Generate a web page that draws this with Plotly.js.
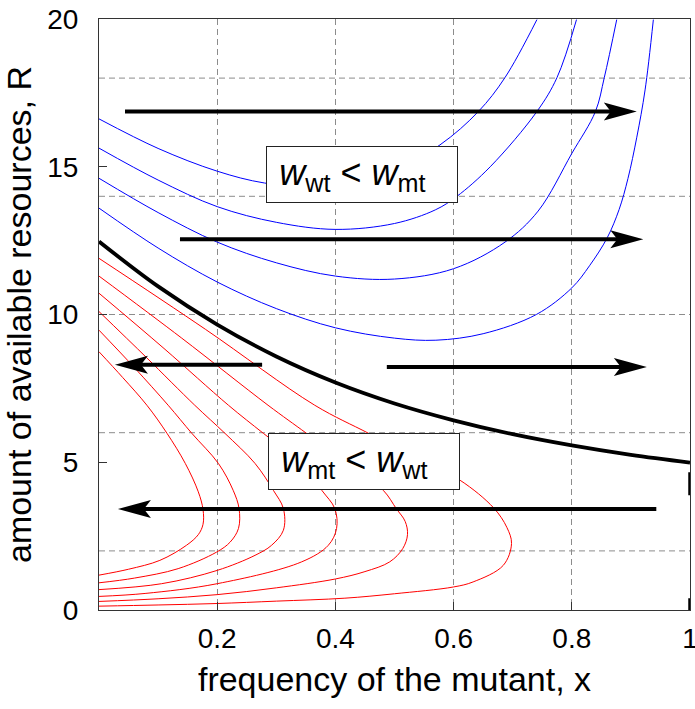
<!DOCTYPE html>
<html><head><meta charset="utf-8">
<script src="https://cdn.plot.ly/plotly-3.0.1.min.js"></script>
<style>html,body{margin:0;padding:0;background:#fff}</style>
</head><body>
<div id="chart" style="width:695px;height:709px"></div>
<script>
// ---------- data ----------
// blue trajectories (w_wt < w_mt region)
const blue1X = [0, 0.1, 0.2, 0.28, 0.38, 0.48, 0.577, 0.642, 0.687, 0.741];
const blue1R = [16.62, 15.62, 14.85, 14.45, 14.3, 14.65, 15.74, 16.87, 18.02, 19.98];
const blue2X = [0, 0.1, 0.2, 0.3, 0.4, 0.5, 0.569, 0.605, 0.662, 0.741, 0.775, 0.808];
const blue2R = [15.63, 14.55, 13.65, 13.12, 12.88, 13.08, 13.54, 13.99, 15.0, 16.87, 18.02, 19.98];
const blue3X = [0, 0.1, 0.2, 0.3, 0.4, 0.5, 0.6, 0.687, 0.743, 0.8, 0.84, 0.855, 0.876];
const blue3R = [14.61, 13.45, 12.45, 11.75, 11.3, 11.2, 11.55, 12.45, 13.5, 15.45, 16.87, 18.02, 19.98];
const blue4X = [0, 0.1, 0.2, 0.3, 0.4, 0.5, 0.57, 0.65, 0.74, 0.8, 0.83, 0.86, 0.88, 0.895, 0.91, 0.924, 0.938];
const blue4R = [13.6, 12.25, 11.1, 10.2, 9.55, 9.2, 9.13, 9.35, 10.0, 10.9, 11.65, 12.6, 13.55, 14.6, 16.0, 17.6, 19.98];

// red trajectories (w_mt < w_wt region)
const redAX = [0, 0.04, 0.081, 0.115, 0.146, 0.168, 0.176, 0.176, 0.168, 0.148, 0.103, 0.05, 0];
const redAR = [8.74, 7.87, 6.93, 5.98, 4.96, 4.0, 3.4, 2.9, 2.55, 2.19, 1.68, 1.38, 1.18];
const redBX = [0, 0.06, 0.117, 0.157, 0.202, 0.227, 0.237, 0.236, 0.222, 0.199, 0.134, 0.06, 0];
const redBR = [9.47, 8.2, 6.93, 5.98, 4.96, 4.05, 3.43, 2.76, 2.3, 1.96, 1.4, 1.08, 0.92];
const redCX = [0, 0.08, 0.162, 0.213, 0.264, 0.295, 0.312, 0.312, 0.292, 0.264, 0.2, 0.106, 0];
const redCR = [10.1, 8.55, 6.93, 5.98, 4.96, 4.05, 3.43, 2.7, 2.19, 1.85, 1.34, 0.89, 0.69];
const redDX = [0, 0.11, 0.219, 0.278, 0.343, 0.377, 0.399, 0.402, 0.388, 0.343, 0.2, 0.078, 0];
const redDR = [10.72, 8.85, 6.93, 5.98, 4.96, 4.05, 3.43, 2.76, 2.19, 1.63, 0.89, 0.56, 0.46];
const redEX = [0, 0.14, 0.286, 0.351, 0.42, 0.481, 0.503, 0.518, 0.522, 0.514, 0.492, 0.45, 0.4, 0.3, 0.2, 0.1, 0];
const redER = [11.3, 9.2, 6.93, 5.98, 4.96, 4.05, 3.43, 3.0, 2.55, 2.08, 1.63, 1.3, 1.05, 0.75, 0.52, 0.38, 0.29];
const redFX = [0, 0.18, 0.365, 0.456, 0.535, 0.611, 0.668, 0.69, 0.698, 0.684, 0.633, 0.6, 0.5, 0.416, 0.3, 0.2, 0.1, 0];
const redFR = [11.9, 9.5, 6.93, 5.98, 5.15, 4.39, 3.45, 2.8, 2.25, 1.51, 0.95, 0.78, 0.55, 0.4, 0.3, 0.22, 0.17, 0.13];

// separatrix (w_wt = w_mt)
const sepX = [0, 0.1, 0.2, 0.3, 0.4, 0.5, 0.6, 0.7, 0.8, 0.9, 1];
const sepR = [12.47, 10.95, 9.66, 8.58, 7.7, 6.99, 6.42, 5.95, 5.57, 5.25, 4.99];

// vertical dashed segment at x = 1
const edgeX = [1, 1];
const edgeR = [5, 0];

// direction arrows
const arrowTailX = [0.044, 0.137, 0.276, 0.487, 0.943];
const arrowTipX  = [0.91, 0.921, 0.027, 0.927, 0.032];
const arrowR     = [16.87, 12.55, 8.3, 8.22, 3.42];

// labels
const labelX = [0.2826, 0.286];
const labelR = [15.71, 5.975];
const labelText = ['<i>w</i><sub>wt</sub> &lt; <i>w</i><sub>mt</sub>',
                   '<i>w</i><sub>mt</sub> &lt; <i>w</i><sub>wt</sub>'];

// axes
const xTickVals = [0.2, 0.4, 0.6, 0.8, 1];
const xTickText = ['0.2', '0.4', '0.6', '0.8', '1'];
const yTickVals = [0, 5, 10, 15, 20];
const yGridVals = [2, 6, 10, 14, 18];

// ---------- drawing ----------
const FONT = 'Liberation Sans, Arial, Helvetica, sans-serif';
const W = 695, H = 709;
const M = {l: 99, r: 5, t: 19, b: 99};
const PLOT_W = W - M.l - M.r;

function curve(x, y, color, width) {
  return {x: x, y: y, type: 'scatter', mode: 'lines',
          line: {color: color, width: width, shape: 'spline', smoothing: 1},
          hoverinfo: 'skip', showlegend: false};
}

const traces = [
  curve(blue1X, blue1R, '#0000ff', 1),
  curve(blue2X, blue2R, '#0000ff', 1),
  curve(blue3X, blue3R, '#0000ff', 1),
  curve(blue4X, blue4R, '#0000ff', 1),
  curve(redAX, redAR, '#ff0000', 1),
  curve(redBX, redBR, '#ff0000', 1),
  curve(redCX, redCR, '#ff0000', 1),
  curve(redDX, redDR, '#ff0000', 1),
  curve(redEX, redER, '#ff0000', 1),
  curve(redFX, redFR, '#ff0000', 1),
  curve(sepX, sepR, '#000000', 3.8),
  {x: edgeX, y: edgeR, type: 'scatter', mode: 'lines', cliponaxis: false,
   line: {color: '#000', width: 3.5, dash: '0px,10px,23px,103px,12px,10px'},
   hoverinfo: 'skip', showlegend: false}
];

const shapes = [];
yGridVals.forEach(v => shapes.push({
  type: 'line', xref: 'paper', yref: 'y', x0: 0, x1: 1, y0: v, y1: v, layer: 'below',
  line: {color: '#8c8c8c', width: 1, dash: '6px,4px'}
}));

const HEAD_R = 'M0,0L-33,9L-26,0L-33,-9Z';
const HEAD_L = 'M0,0L33,9L26,0L33,-9Z';
arrowTipX.forEach((tip, i) => {
  const tail = arrowTailX[i];
  const dir = tip > tail ? 1 : -1;
  shapes.push({type: 'line', xref: 'x', yref: 'y',
    x0: tail, y0: arrowR[i], x1: tip - dir * 22 / PLOT_W, y1: arrowR[i],
    line: {color: '#000', width: 4}});
  shapes.push({type: 'path', xref: 'x', yref: 'y', xsizemode: 'pixel', ysizemode: 'pixel',
    xanchor: tip, yanchor: arrowR[i], path: dir > 0 ? HEAD_R : HEAD_L,
    fillcolor: '#000', line: {color: '#000', width: 0}});
});

const annotations = labelText.map((t, i) => ({
  x: labelX[i], y: labelR[i], xref: 'x', yref: 'y', xanchor: 'left', yanchor: 'top',
  text: '\u2009' + t, showarrow: false, align: 'left', valign: 'middle',
  width: 180, height: 45, borderpad: 5, borderwidth: 1, bordercolor: '#222', bgcolor: '#fff',
  font: {family: FONT, size: 36, color: '#000'}
}));

const layout = {
  width: W, height: H, margin: M,
  paper_bgcolor: '#fff', plot_bgcolor: '#fff',
  font: {family: FONT, color: '#000'},
  showlegend: false,
  xaxis: {
    range: [0, 1], tickvals: xTickVals, ticktext: xTickText,
    ticks: 'inside', ticklen: 8, tickcolor: '#333', tickwidth: 1,
    showgrid: true, gridcolor: '#8c8c8c', gridwidth: 1, griddash: '6px,4px',
    showline: true, linecolor: '#333', linewidth: 1, mirror: true, zeroline: false,
    tickfont: {family: FONT, size: 28, color: '#000'}, ticklabelstandoff: 3,
    ticklabeloverflow: 'allow',
    title: {text: 'frequency of the mutant, x', font: {family: FONT, size: 34, color: '#000'}, standoff: 14},
    fixedrange: true
  },
  yaxis: {
    range: [0, 20], tickvals: yTickVals,
    ticks: 'inside', ticklen: 8, tickcolor: '#333', tickwidth: 1,
    showgrid: false,
    showline: true, linecolor: '#333', linewidth: 1, mirror: true, zeroline: false,
    tickfont: {family: FONT, size: 28, color: '#000'}, ticklabelstandoff: 14,
    ticklabeloverflow: 'allow',
    title: {text: 'amount of available resources, R', font: {family: FONT, size: 34, color: '#000'}, standoff: 12},
    fixedrange: true
  },
  shapes: shapes,
  annotations: annotations
};

Plotly.newPlot('chart', traces, layout, {staticPlot: true, displayModeBar: false});
</script>
</body></html>
